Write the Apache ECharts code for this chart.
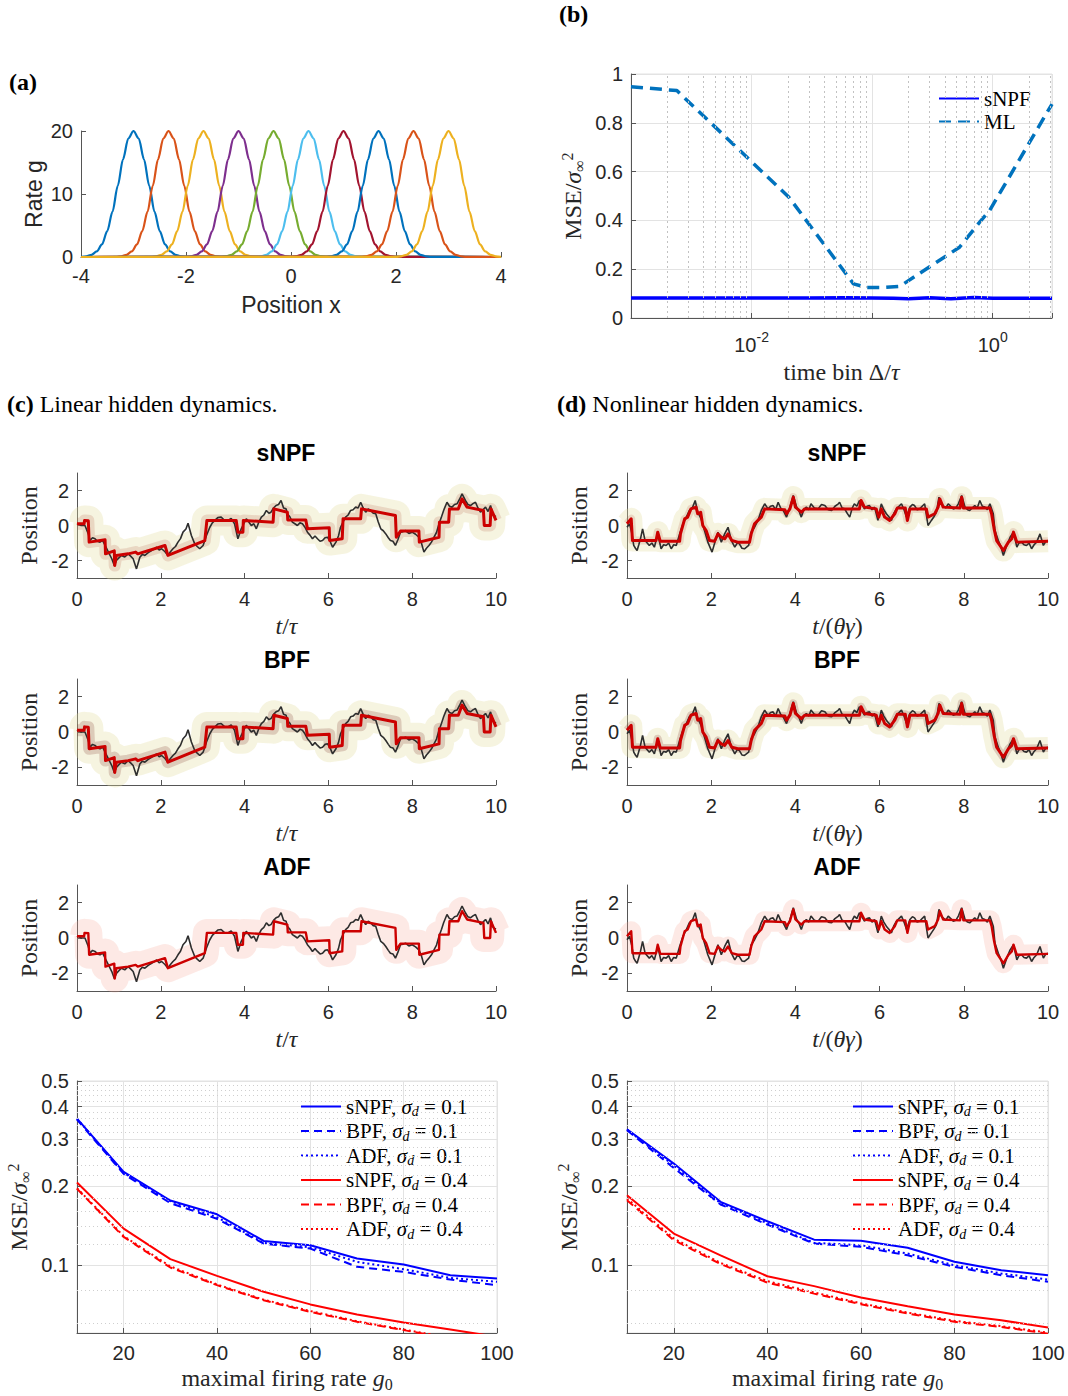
<!DOCTYPE html>
<html><head><meta charset="utf-8">
<script src="https://cdn.jsdelivr.net/npm/echarts@6/dist/echarts.min.js"></script>
<style>html,body{margin:0;padding:0;background:#fff}#c{width:1068px;height:1396px}</style>
</head><body><div id="c"></div>
<script>
// ---------------- DATA ----------------
// (a) tuning curves: centres and the common bump profile
const tuningCenters = [-3, -2.333, -1.667, -1, -0.333, 0.333, 1, 1.667, 2.333, 3];
const tuningOffsets = [-1.0,-0.9,-0.8,-0.7,-0.6,-0.5,-0.4,-0.3,-0.2,-0.1,0,0.1,0.2,0.3,0.4,0.5,0.6,0.7,0.8,0.9,1.0];
const tuningRates   = [0.03,0.11,0.34,0.88,2.0,4.1,7.2,11.3,15.5,18.8,20,18.8,15.5,11.3,7.2,4.1,2.0,0.88,0.34,0.11,0.03];

// (b) MSE vs time bin
const bBinML   = [0.001,0.0024,0.0204,0.07,0.09,0.12,0.17,0.3,0.53,0.77,0.94,3.1];
const bML      = [0.948,0.932,0.495,0.14,0.125,0.125,0.13,0.21,0.29,0.39,0.44,0.877];
const bBinSNPF = [0.001,0.01,0.03,0.06,0.1,0.15,0.2,0.3,0.45,0.7,1,3.1];
const bSNPF    = [0.082,0.082,0.082,0.083,0.082,0.081,0.079,0.083,0.079,0.084,0.081,0.081];

// (c) linear hidden dynamics: true position and filter estimate [t, x]
const cTrue = [[0,0.05],[0.03,0.1],[0.1,0.0],[0.19,0],[0.27,-0.48],[0.31,-0.86],[0.37,-0.7],[0.43,-0.76],[0.49,-0.9],[0.55,-0.95],[0.61,-0.85],[0.67,-1.14],[0.75,-1.52],[0.83,-1.9],[0.89,-2.29],[0.94,-2.0],[1.0,-1.85],[1.06,-1.71],[1.14,-1.8],[1.22,-1.62],[1.28,-1.75],[1.34,-1.9],[1.42,-2.48],[1.5,-1.81],[1.56,-1.65],[1.62,-1.71],[1.7,-1.55],[1.78,-1.43],[1.84,-1.35],[1.9,-1.24],[1.96,-1.4],[2.02,-1.33],[2.1,-1.5],[2.17,-1.71],[2.23,-1.5],[2.29,-1.33],[2.35,-1.2],[2.41,-0.95],[2.47,-0.75],[2.53,-0.38],[2.6,-0.2],[2.65,0.13],[2.73,-0.57],[2.81,-1.05],[2.87,-1.2],[2.93,-1.33],[3.01,-1.14],[3.09,-0.57],[3.17,-0.1],[3.23,0.15],[3.29,0.29],[3.36,0.45],[3.44,0.48],[3.52,0.3],[3.6,0.29],[3.68,0.4],[3.76,0.1],[3.84,-0.76],[3.92,-0.19],[3.98,0.1],[4.04,0.38],[4.1,0.2],[4.16,0],[4.22,0.1],[4.28,-0.19],[4.34,0.2],[4.4,0.48],[4.46,0.6],[4.52,0.86],[4.58,0.7],[4.63,0.76],[4.69,1.0],[4.75,1.14],[4.81,1.2],[4.87,1.43],[4.93,1.0],[4.99,0.95],[5.02,0.67],[5.08,0.5],[5.14,0.19],[5.2,0.1],[5.26,0],[5.32,0.15],[5.38,0.1],[5.44,-0.1],[5.5,-0.38],[5.56,-0.55],[5.62,-0.76],[5.68,-0.6],[5.74,-0.76],[5.8,-0.9],[5.86,-0.86],[5.92,-0.7],[5.98,-0.67],[6.04,-0.9],[6.1,-1.24],[6.18,-0.95],[6.24,-0.6],[6.29,-0.1],[6.35,0.2],[6.41,0.48],[6.47,0.6],[6.53,0.86],[6.59,0.9],[6.65,1.05],[6.71,1.0],[6.77,1.33],[6.83,1.0],[6.89,0.76],[6.95,0.95],[7.01,0.86],[7.07,0.7],[7.13,0.67],[7.19,0.2],[7.25,-0.19],[7.31,-0.3],[7.37,-0.48],[7.43,-0.7],[7.48,-0.86],[7.54,-0.9],[7.6,-1.14],[7.66,-0.8],[7.72,-0.38],[7.78,-0.35],[7.84,-0.29],[7.92,-0.45],[8.0,-0.38],[8.08,-0.5],[8.16,-0.67],[8.22,-1.0],[8.28,-1.52],[8.34,-1.3],[8.4,-1.14],[8.46,-0.95],[8.52,-0.67],[8.58,-0.4],[8.64,0.1],[8.7,0.5],[8.75,0.86],[8.83,1.33],[8.89,1.1],[8.95,1.05],[9.01,1.2],[9.07,1.24],[9.13,1.5],[9.19,1.81],[9.27,1.43],[9.33,1.2],[9.39,1.14],[9.45,1.25],[9.51,1.33],[9.57,1.0],[9.63,0.76],[9.69,0.9],[9.75,1.05],[9.81,0.8],[9.87,1.14],[9.93,0.6],[10,0.5]];
const cEst = [[0,0.1],[0.17,0.1],[0.18,0.29],[0.27,0.27],[0.29,-0.95],[0.67,-0.82],[0.68,-1.62],[0.89,-1.45],[0.9,-2.29],[0.94,-1.71],[1.22,-1.62],[1.4,-1.52],[1.45,-1.62],[2.1,-1.14],[2.17,-1.71],[3.05,-0.86],[3.1,0.29],[3.8,0.29],[3.84,-0.38],[3.96,-0.38],[3.97,0.29],[4.68,0.19],[4.7,0.95],[5.02,0.76],[5.03,0.32],[5.46,0.32],[5.5,-0.19],[6.02,-0.13],[6.03,-0.86],[6.33,-0.76],[6.35,0.38],[6.77,0.38],[6.79,0.95],[7.6,0.57],[7.62,-0.67],[7.72,-0.32],[8.16,-0.32],[8.17,-0.95],[8.64,-0.67],[8.65,0.19],[8.87,0.19],[8.89,0.95],[9.1,0.95],[9.19,1.52],[9.31,1.05],[9.7,0.86],[9.72,0],[9.86,0],[9.88,0.95],[10,0.29]];

// (d) nonlinear hidden dynamics
const dTrue = [[0,-0.1],[0.06,0.1],[0.11,-0.38],[0.16,-1.14],[0.2,-1.3],[0.24,-1.43],[0.28,-1.1],[0.32,-0.76],[0.37,-0.19],[0.43,-0.86],[0.48,-1.0],[0.53,-1.14],[0.59,-1.0],[0.65,-1.24],[0.73,-0.48],[0.77,-0.9],[0.81,-1.33],[0.87,-1.1],[0.93,-1.14],[0.99,-1.0],[1.05,-1.33],[1.11,-1.1],[1.17,-1.14],[1.25,-0.48],[1.33,0.1],[1.41,0.48],[1.48,0.86],[1.56,1.05],[1.62,1.43],[1.68,0.76],[1.76,0.38],[1.84,-0.29],[1.92,-0.95],[2.02,-1.52],[2.1,-0.86],[2.16,-0.38],[2.24,-0.95],[2.32,-0.48],[2.4,-0.1],[2.48,-0.86],[2.56,-1.24],[2.62,-1.0],[2.67,-1.05],[2.73,-1.3],[2.79,-1.33],[2.89,-1.14],[2.95,-0.38],[3.03,-0.1],[3.11,0.29],[3.19,0.86],[3.27,1.24],[3.35,0.95],[3.41,1.1],[3.47,1.14],[3.53,0.9],[3.59,1.33],[3.65,1.0],[3.71,0.86],[3.79,0.48],[3.87,1.05],[3.95,1.71],[4.03,1.05],[4.09,0.8],[4.14,0.48],[4.2,0.9],[4.26,1.05],[4.32,0.9],[4.37,1.24],[4.45,1.0],[4.54,0.95],[4.62,1.2],[4.7,1.14],[4.78,0.9],[4.86,0.86],[4.94,1.1],[5.02,1.24],[5.05,1.33],[5.11,1.0],[5.17,0.95],[5.23,0.7],[5.29,0.48],[5.35,1.0],[5.4,1.24],[5.46,1.1],[5.52,1.43],[5.58,1.2],[5.64,0.95],[5.7,1.1],[5.76,1.14],[5.82,0.9],[5.88,1.05],[5.96,0.29],[6.04,1.24],[6.1,0.9],[6.16,0.67],[6.22,0.5],[6.28,0.29],[6.34,0.7],[6.4,0.95],[6.46,1.1],[6.52,1.24],[6.58,0.9],[6.64,0.48],[6.72,1.05],[6.78,1.2],[6.83,1.14],[6.89,0.9],[6.95,0.95],[7.01,1.1],[7.07,1.24],[7.15,0],[7.23,0.29],[7.29,0.5],[7.35,0.76],[7.41,1.62],[7.47,1.2],[7.51,1.14],[7.57,1.0],[7.63,1.24],[7.69,1.1],[7.75,0.95],[7.81,1.0],[7.87,1.24],[7.95,1.71],[8.03,1.05],[8.09,0.9],[8.14,0.86],[8.2,1.0],[8.26,1.14],[8.32,1.0],[8.38,1.43],[8.44,1.1],[8.5,1.05],[8.56,0.9],[8.62,1.24],[8.7,0.67],[8.74,-0.29],[8.82,-0.86],[8.88,-1.2],[8.94,-1.71],[9.02,-1.14],[9.1,-0.67],[9.18,-0.38],[9.26,-1.24],[9.31,-1.0],[9.37,-0.95],[9.43,-1.1],[9.49,-1.14],[9.55,-1.0],[9.61,-1.33],[9.67,-1.1],[9.73,-0.95],[9.81,-0.48],[9.89,-1.14],[9.95,-0.9],[10,-0.86]];
const dEst = [[0,0.1],[0.1,0.38],[0.13,-0.86],[0.69,-0.86],[0.73,-0.38],[0.79,-0.9],[1.25,-0.9],[1.27,-0.48],[1.37,0.38],[1.44,0.48],[1.52,0.95],[1.64,1.05],[1.68,0.67],[1.75,0.76],[1.8,0],[1.88,-0.29],[1.96,-0.86],[2.08,-0.9],[2.16,-0.48],[2.24,-0.67],[2.32,-0.76],[2.4,-0.48],[2.49,-0.86],[2.63,-0.95],[2.91,-0.95],[2.95,-0.48],[3.03,0.1],[3.11,0.29],[3.19,0.48],[3.27,0.95],[3.75,0.9],[3.79,0.67],[3.87,0.95],[3.95,1.62],[4.0,1.05],[4.14,0.76],[4.22,0.95],[5.52,0.95],[5.56,1.43],[5.64,1.05],[5.92,0.95],[5.98,0.48],[6.04,0.95],[6.12,0.48],[6.24,0.29],[6.36,0.67],[6.42,1.0],[6.61,1.0],[6.66,0.29],[6.72,0.95],[7.11,0.95],[7.15,0.48],[7.31,0.67],[7.39,1.05],[7.43,1.52],[7.51,1.05],[7.91,1.0],[7.95,1.62],[7.99,1.0],[8.62,1.0],[8.66,0.67],[8.72,-0.19],[8.78,-0.86],[8.94,-1.43],[9.06,-0.95],[9.14,-0.76],[9.18,-0.38],[9.26,-0.95],[10,-0.9]];

// bottom: MSE vs maximal firing rate
const g0 = [10,20,30,40,50,60,70,80,90,100];
const linSNPF01 = [0.36,0.226,0.176,0.156,0.1236,0.119,0.106,0.1006,0.0916,0.089];
const linBPF01  = [0.357,0.222,0.172,0.15,0.1208,0.1156,0.0986,0.0943,0.0882,0.084];
const linADF01  = [0.36,0.224,0.175,0.152,0.1215,0.117,0.103,0.0966,0.0895,0.0865];
const linSNPF04 = [0.206,0.1377,0.1054,0.0911,0.0793,0.071,0.065,0.0606,0.057,0.0535];
const linBPF04  = [0.195,0.128,0.098,0.084,0.0736,0.0665,0.061,0.0567,0.0527,0.0497];
const linADF04  = [0.196,0.129,0.099,0.0845,0.074,0.067,0.0613,0.057,0.053,0.05];
const nonSNPF01 = [0.328,0.243,0.174,0.1468,0.125,0.1237,0.1164,0.103,0.0957,0.0916];
const nonBPF01  = [0.325,0.234,0.17,0.1426,0.1208,0.1174,0.109,0.0986,0.0916,0.0865];
const nonADF01  = [0.327,0.239,0.172,0.1443,0.1215,0.1191,0.1107,0.1,0.093,0.0882];
const nonSNPF04 = [0.1843,0.1318,0.109,0.0908,0.0833,0.0754,0.0699,0.065,0.0618,0.058];
const nonBPF04  = [0.1764,0.1245,0.101,0.0859,0.078,0.0711,0.0656,0.061,0.0583,0.055];
const nonADF04  = [0.179,0.1263,0.102,0.087,0.0788,0.0717,0.0661,0.0615,0.0587,0.0555];

// tick / gridline values
const bMinorGrid = [0.002,0.003,0.004,0.005,0.006,0.007,0.008,0.009,0.02,0.03,0.04,0.05,0.06,0.07,0.08,0.09,0.2,0.3,0.4,0.5,0.6,0.7,0.8,0.9,2,3];
const mseTicks = [0.1,0.2,0.3,0.4,0.5];
const mseMinorGrid = [0.06,0.08,0.12,0.14,0.16,0.18,0.22,0.24,0.26,0.28,0.32,0.34,0.36,0.38,0.42,0.44,0.46,0.48];
const g0Ticks = [20,40,60,80,100];
const posTicks = [-2,0,2];

// ---------------- STYLE ----------------
const SANS = "'Liberation Sans', Arial, Helvetica, sans-serif";
const SERIF = "'Liberation Serif', 'Times New Roman', serif";
const TXT = '#262626';
const AX = {color:'#555555', width:1};
const tuningColors = ['#0072BD','#D95319','#EDB120','#7E2F8E','#77AC30','#4DBEEE','#A2142F','#0072BD','#D95319','#EDB120'];
const NAME_RICH = {
  n:{fontFamily:SERIF,fontSize:24,color:TXT,lineHeight:28},
  i:{fontFamily:SERIF,fontStyle:'italic',fontSize:24,color:TXT,lineHeight:28},
  sub:{fontFamily:SERIF,fontSize:16,color:TXT,verticalAlign:'bottom'},
  sup:{fontFamily:SERIF,fontSize:16,color:TXT,verticalAlign:'top'}
};
const LEG_RICH = {
  n:{fontFamily:SERIF,fontSize:21,color:'#000',lineHeight:24},
  i:{fontFamily:SERIF,fontStyle:'italic',fontSize:21,color:'#000',lineHeight:24},
  sub:{fontFamily:SERIF,fontStyle:'italic',fontSize:14,color:'#000',verticalAlign:'bottom'}
};

const grids = [
  {left:81, top:131, width:420, height:126},             // a
  {left:631, top:74, width:421, height:244, show:true, borderColor:'#e3e3e3', borderWidth:1}, // b
  {left:77, top:473, width:419, height:105},             // c1
  {left:77, top:679, width:419, height:106},             // c2
  {left:77, top:885, width:419, height:106},             // c3
  {left:627, top:473, width:421, height:105},            // d1
  {left:627, top:679, width:421, height:106},            // d2
  {left:627, top:885, width:421, height:106},            // d3
  {left:77, top:1081, width:420, height:252, show:true, borderColor:'#e3e3e3', borderWidth:1}, // e
  {left:627, top:1081, width:421, height:252, show:true, borderColor:'#e3e3e3', borderWidth:1} // f
].map(g => Object.assign({outerBoundsMode:'none', containLabel:false}, g));

function axisBase(gi, extra) {
  return Object.assign({
    gridIndex: gi, type:'value',
    axisLine:{show:true, onZero:false, lineStyle:AX},
    axisTick:{show:true, inside:true, length:5, lineStyle:AX},
    axisLabel:{color:TXT, fontFamily:SANS, fontSize:20, margin:8},
    splitLine:{show:false},
    nameLocation:'middle'
  }, extra);
}

const xAxes = [], yAxes = [];
// (a)
xAxes.push(axisBase(0, {min:-4, max:4, interval:2, name:'Position x', nameGap:36,
  axisLabel:{color:TXT, fontFamily:SANS, fontSize:20, margin:9},
  nameTextStyle:{fontFamily:SANS, fontSize:23, color:TXT}}));
yAxes.push(axisBase(0, {min:0, max:20, interval:10, name:'Rate g', nameGap:36, nameRotate:90,
  nameTextStyle:{fontFamily:SANS, fontSize:23, color:TXT}}));
// (b)
xAxes.push(axisBase(1, {type:'log', logBase:10, min:0.001, max:3.1,
  axisLabel:{margin:12, formatter:function(v){
    const l = Math.log10(v), e = Math.round(l);
    if (Math.abs(l-e) > 1e-6) return '';
    if (e === -2 || e === 0) return '{b|10}{s|' + e + '}';
    return '';
  }, rich:{b:{fontFamily:SANS,fontSize:20,color:TXT,lineHeight:30}, s:{fontFamily:SANS,fontSize:14,color:TXT,verticalAlign:'top'}}},
  splitLine:{show:true, lineStyle:{color:'#e3e3e3', width:1}},
  name:'{n|time bin Δ/}{i|τ}', nameGap:40, nameTextStyle:{rich:NAME_RICH}}));
yAxes.push(axisBase(1, {min:0, max:1, interval:0.2,
  splitLine:{show:true, lineStyle:{color:'#e3e3e3', width:1}},
  name:'{n|MSE/}{i|σ}{sub|∞}{sup|2}', nameGap:44, nameRotate:90, nameTextStyle:{rich:NAME_RICH}}));
// (c), (d)
const cName = '{i|t}{n|/}{i|τ}';
const dName = '{i|t}{n|/(}{i|θγ}{n|)}';
for (let k = 0; k < 6; k++) {
  const gi = 2 + k;
  xAxes.push(axisBase(gi, {min:0, max:10, interval:2, name: k < 3 ? cName : dName, nameGap:34,
    axisLabel:{color:TXT, fontFamily:SANS, fontSize:20, margin:11},
    nameTextStyle:{rich:NAME_RICH}}));
  yAxes.push(axisBase(gi, {min:-3, max:3,
    axisLabel:{color:TXT, fontFamily:SANS, fontSize:20, margin:8, customValues:posTicks},
    axisTick:{show:true, inside:true, length:5, lineStyle:AX, customValues:posTicks},
    name:'{n|Position}', nameGap:34, nameRotate:90, nameTextStyle:{rich:NAME_RICH}}));
}
// bottom
for (let k = 0; k < 2; k++) {
  const gi = 8 + k;
  xAxes.push(axisBase(gi, {min:10, max:100,
    axisLabel:{color:TXT, fontFamily:SANS, fontSize:20, margin:10, customValues:g0Ticks},
    axisTick:{show:true, inside:true, length:5, lineStyle:AX, customValues:g0Ticks},
    splitLine:{show:true, lineStyle:{color:'#e3e3e3', width:1}},
    name:'{n|maximal firing rate }{i|g}{sub|0}', nameGap:31, nameTextStyle:{rich:NAME_RICH}}));
  yAxes.push(axisBase(gi, {type:'log', logBase:10, min:0.0553, max:0.5,
    axisLabel:{color:TXT, fontFamily:SANS, fontSize:20, margin:8, customValues:mseTicks,
      formatter:function(v){ return (+v).toFixed(1); }},
    axisTick:{show:true, inside:true, length:5, lineStyle:AX, customValues:mseTicks},
    splitLine:{show:true, lineStyle:{color:'#e3e3e3', width:1}},
    name:'{n|MSE/}{i|σ}{sub|∞}{sup|2}', nameGap:44, nameRotate:90, nameTextStyle:{rich:NAME_RICH}}));
}

// ---------------- SERIES ----------------
const series = [];
// (a)
tuningCenters.forEach(function(c, k){
  const pts = [];
  if (c - 1 > -4) pts.push([-4, 0]);
  tuningOffsets.forEach(function(o, i){ pts.push([c + o, tuningRates[i]]); });
  if (c + 1 < 4) pts.push([4, 0]);
  series.push({type:'line', xAxisIndex:0, yAxisIndex:0, data:pts, symbol:'none', smooth:0.3, smoothMonotone:'x',
    lineStyle:{color:tuningColors[k], width:2.2}, silent:true, z:2});
});
// (b)
function zip(a, b){ return a.map(function(v, i){ return [v, b[i]]; }); }
series.push({type:'line', name:'b_sNPF', xAxisIndex:1, yAxisIndex:1, data:zip(bBinSNPF, bSNPF), symbol:'none',
  lineStyle:{color:'#0000FF', width:3.5}, itemStyle:{color:'#0000FF'}, z:3,
  markLine:{silent:true, symbol:['none','none'], label:{show:false},
    lineStyle:{color:'#c2c2c2', type:[2,3], width:1}, animation:false,
    data: bMinorGrid.map(function(v){ return [{coord:[v, 0]}, {coord:[v, 1]}]; })}});
series.push({type:'line', name:'b_ML', xAxisIndex:1, yAxisIndex:1, data:zip(bBinML, bML), symbol:'none',
  lineStyle:{color:'#0072BD', width:3.5, type:[12,7]}, itemStyle:{color:'#0072BD'}, z:3});

// (c),(d) trace panels
function tracePanel(gi, trueData, estData, kind, wide) {
  const common = {type:'line', xAxisIndex:gi, yAxisIndex:gi, symbol:'none', silent:true, clip:true};
  if (kind === 'ADF') {
    series.push(Object.assign({}, common, {data:estData, z:1,
      lineStyle:{color:'rgba(246,165,145,0.24)', width:wide+2, join:'round', cap:'butt'}}));
  } else {
    series.push(Object.assign({}, common, {data:estData, z:1,
      lineStyle:{color:'rgba(228,220,160,0.32)', width:wide+4, join:'round', cap:'butt'}}));
    series.push(Object.assign({}, common, {data:estData, z:1,
      lineStyle:{color: kind === 'BPF' ? 'rgba(120,40,30,0.2)' : 'rgba(175,85,60,0.18)', width:Math.round(wide*0.45), join:'round', cap:'butt'}}));
  }
  series.push(Object.assign({}, common, {data:trueData, z:2, lineStyle:{color:'#2e2e2e', width:1.6}}));
  series.push(Object.assign({}, common, {data:estData, z:3,
    lineStyle:{color:'#CC0000', width: kind === 'ADF' ? 2.4 : 3, join:'round'}}));
}
['sNPF','BPF','ADF'].forEach(function(kind, k){ tracePanel(2 + k, cTrue, cEst, kind, 26); });
['sNPF','BPF','ADF'].forEach(function(kind, k){ tracePanel(5 + k, dTrue, dEst, kind, 18); });

// bottom
const legendText = {};
function msePanel(gi, prefix, sets) {
  sets.forEach(function(s, i){
    const name = prefix + s.label + s.sd;
    legendText[name] = '{n|' + s.label + ', }{i|σ}{sub|d}{n| = ' + s.sd + '}';
    const ser = {type:'line', name:name, xAxisIndex:gi, yAxisIndex:gi, data:zip(g0, s.values), symbol:'none', clip:true,
      lineStyle:{color:s.color, width:2, type:s.type}, itemStyle:{color:s.color}, z:3};
    if (i === 0) ser.markLine = {silent:true, symbol:['none','none'], label:{show:false}, animation:false,
      lineStyle:{color:'#cfcfcf', type:[1,3], width:1},
      data: mseMinorGrid.map(function(v){ return [{coord:[10, v]}, {coord:[100, v]}]; })};
    series.push(ser);
  });
}
const setsL = [
  {label:'sNPF', sd:'0.1', values:linSNPF01, color:'#0000FF', type:'solid'},
  {label:'BPF',  sd:'0.1', values:linBPF01,  color:'#0000FF', type:[8,5]},
  {label:'ADF',  sd:'0.1', values:linADF01,  color:'#0000FF', type:[2,3]},
  {label:'sNPF', sd:'0.4', values:linSNPF04, color:'#FF0000', type:'solid'},
  {label:'BPF',  sd:'0.4', values:linBPF04,  color:'#FF0000', type:[8,5]},
  {label:'ADF',  sd:'0.4', values:linADF04,  color:'#FF0000', type:[2,3]}
];
const setsR = [
  {label:'sNPF', sd:'0.1', values:nonSNPF01, color:'#0000FF', type:'solid'},
  {label:'BPF',  sd:'0.1', values:nonBPF01,  color:'#0000FF', type:[8,5]},
  {label:'ADF',  sd:'0.1', values:nonADF01,  color:'#0000FF', type:[2,3]},
  {label:'sNPF', sd:'0.4', values:nonSNPF04, color:'#FF0000', type:'solid'},
  {label:'BPF',  sd:'0.4', values:nonBPF04,  color:'#FF0000', type:[8,5]},
  {label:'ADF',  sd:'0.4', values:nonADF04,  color:'#FF0000', type:[2,3]}
];
msePanel(8, 'L_', setsL);
msePanel(9, 'R_', setsR);
legendText['b_sNPF'] = '{n|sNPF}';
legendText['b_ML'] = '{n|ML}';

function legendCfg(left, top, names, gap) {
  return {left:left, top:top, orient:'vertical', padding:0, itemWidth:40, itemHeight:12, itemGap:gap,
    selectedMode:false, data:names,
    itemStyle:{opacity:0, borderWidth:0},
    formatter:function(n){ return legendText[n]; },
    textStyle:{rich:LEG_RICH}};
}

// ---------------- TEXT ----------------
function txt(x, y, text, rich, align) {
  return {type:'text', x:x, y:y, silent:true, style:{text:text, rich:rich, textAlign:align || 'left', textVerticalAlign:'middle', fill:'#000'}};
}
const LAB_RICH = {b:{fontFamily:SERIF,fontWeight:'bold',fontSize:24,color:'#000'}, n:{fontFamily:SERIF,fontSize:24,color:'#000'}};
const TIT_RICH = {t:{fontFamily:SANS,fontWeight:'bold',fontSize:23,color:'#000'}};
const graphics = [
  txt(9, 82, '{b|(a)}', LAB_RICH),
  txt(559, 14, '{b|(b)}', LAB_RICH),
  txt(7, 404, '{b|(c)}{n| Linear hidden dynamics.}', LAB_RICH),
  txt(557, 404, '{b|(d)}{n| Nonlinear hidden dynamics.}', LAB_RICH),
  txt(286, 453, '{t|sNPF}', TIT_RICH, 'center'),
  txt(287, 660, '{t|BPF}', TIT_RICH, 'center'),
  txt(287, 867, '{t|ADF}', TIT_RICH, 'center'),
  txt(837, 453, '{t|sNPF}', TIT_RICH, 'center'),
  txt(837, 660, '{t|BPF}', TIT_RICH, 'center'),
  txt(837, 867, '{t|ADF}', TIT_RICH, 'center')
];

const chart = echarts.init(document.getElementById('c'), null, {renderer:'svg', width:1068, height:1396});
chart.setOption({
  animation:false,
  backgroundColor:'#ffffff',
  grid:grids,
  xAxis:xAxes,
  yAxis:yAxes,
  legend:[
    legendCfg(938, 88, ['b_sNPF','b_ML'], 2),
    legendCfg(300, 1096, setsL.map(function(s){ return 'L_' + s.label + s.sd; }), 2),
    legendCfg(852, 1096, setsR.map(function(s){ return 'R_' + s.label + s.sd; }), 2)
  ],
  graphic:graphics,
  series:series
});
</script></body></html>
